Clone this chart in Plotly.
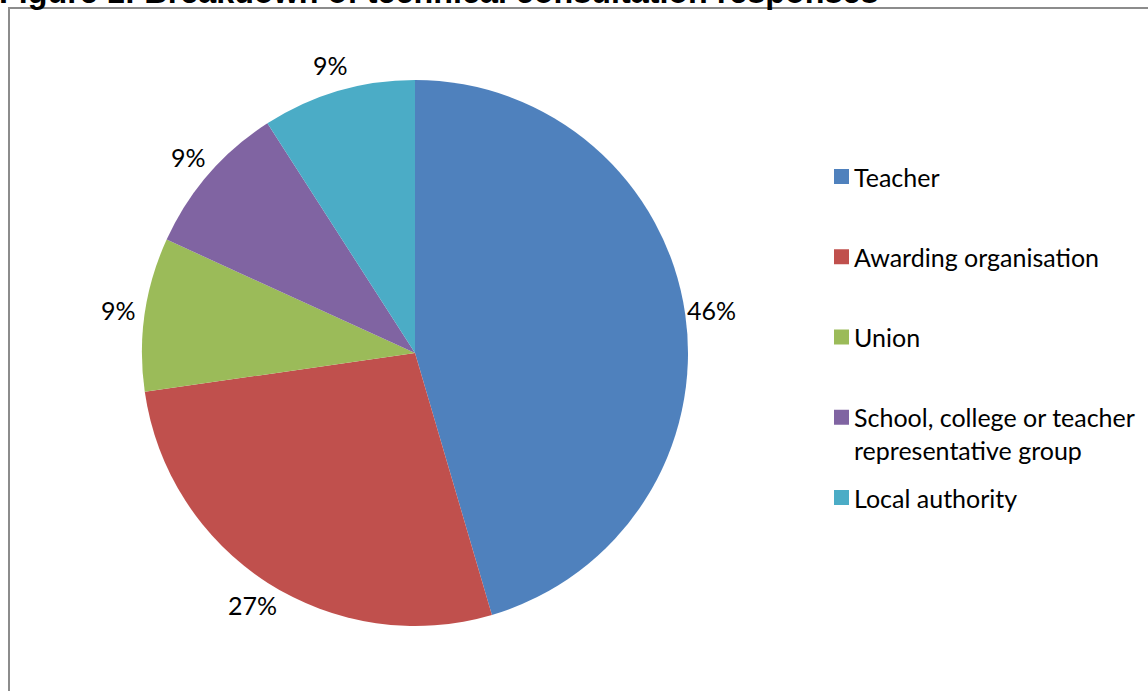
import math
import plotly.graph_objects as go

# ---- data ----
categories = ["Teacher", "Awarding organisation", "Union",
              "School, college or teacher representative group", "Local authority"]
legend_labels = ["Teacher", "Awarding organisation", "Union",
                 "School, college or teacher<br>representative group", "Local authority"]
values = [5, 3, 1, 1, 1]                          # slice sizes (responses)
pct_labels = ["46%", "27%", "9%", "9%", "9%"]     # data labels as printed
colors = ["#4F81BD", "#C0504D", "#9BBB59", "#8064A2", "#4BACC6"]
title_text = "Figure 1: Breakdown of technical consultation responses"

# ---- layout constants (page pixels) ----
W, H = 1148, 691
CX, CY, R = 415, 353, 273           # pie centre and radius
LABEL_R = 300                       # radius of percentage labels
FONT = "Lato, 'Open Sans', sans-serif"
FS = 25


def px(x):
    return x / W


def py(y):
    return 1 - y / H


fig = go.Figure()
fig.add_trace(go.Pie(
    labels=categories,
    values=values,
    marker=dict(colors=colors, line=dict(width=0)),
    sort=False,
    direction="clockwise",
    rotation=0,
    textinfo="none",
    showlegend=False,
    domain=dict(x=[px(CX - R), px(CX + R)], y=[py(CY + R), py(CY - R)]),
))

annotations = []
shapes = []

# percentage labels placed at each slice's mid angle
total = sum(values)
cum = 0
for v, lab in zip(values, pct_labels):
    mid = (cum + v / 2) / total * 2 * math.pi
    cum += v
    lx = CX + LABEL_R * math.sin(mid)
    ly = CY - LABEL_R * math.cos(mid)
    annotations.append(dict(
        x=px(lx), y=py(ly), xref="paper", yref="paper",
        text=lab, showarrow=False,
        xanchor="center", yanchor="middle",
        font=dict(family=FONT, size=FS, color="#000000"),
    ))

# legend
LEG_X_SQ, LEG_X_TXT = 841.5, 855
LEG_Y0, LEG_STEP, SQ = 176.5, 80.25, 15
LINE_H = 33
for i, (lab, col) in enumerate(zip(legend_labels, colors)):
    yc = LEG_Y0 + i * LEG_STEP
    shapes.append(dict(
        type="rect", xref="paper", yref="paper",
        x0=px(LEG_X_SQ - SQ / 2), x1=px(LEG_X_SQ + SQ / 2),
        y0=py(yc + SQ / 2), y1=py(yc - SQ / 2),
        fillcolor=col, line=dict(width=0),
    ))
    nlines = lab.count("<br>") + 1
    annotations.append(dict(
        x=px(LEG_X_TXT - 3), y=py(yc + (nlines - 1) * LINE_H / 2),
        xref="paper", yref="paper",
        text=lab, showarrow=False, align="left",
        xanchor="left", yanchor="middle",
        font=dict(family=FONT, size=FS, color="#000000"),
    ))

# title, cropped at the top edge of the page
annotations.append(dict(
    x=px(-3), y=py(12), xref="paper", yref="paper",
    text=f"<b>{title_text}</b>", showarrow=False,
    xanchor="left", yanchor="bottom",
    font=dict(family="'Liberation Sans', Arial, sans-serif", size=32.3, color="#000000"),
))

# frame border (continues past the right/bottom edges)
shapes.append(dict(
    type="rect", xref="paper", yref="paper",
    x0=px(9), x1=px(W + 4), y0=py(H + 4), y1=py(8),
    line=dict(color="#8C8C8C", width=2), fillcolor="rgba(0,0,0,0)",
))

fig.update_layout(
    width=W, height=H, autosize=False,
    margin=dict(l=0, r=0, t=0, b=0),
    paper_bgcolor="white", plot_bgcolor="white",
    annotations=annotations, shapes=shapes,
)

fig.write_html("out.html", config={"displayModeBar": False},
               post_script="document.body.style.margin='0';")
